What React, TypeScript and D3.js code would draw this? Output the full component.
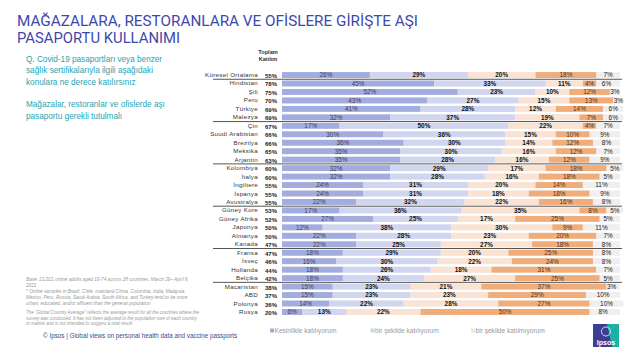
import React from "react";
import * as d3 from "d3";

const countries = [
  "Küresel Ortalama", "Hindistan", "Şili", "Peru", "Türkiye", "Malezya",
  "Çin", "Suudi Arabistan", "Brezilya", "Meksika", "Arjantin",
  "Kolombiya", "İtalya", "İngiltere", "İspanya", "Avustralya",
  "Güney Kore", "Güney Afrika", "Japonya", "Almanya", "Kanada",
  "Fransa", "İsveç", "Hollanda", "Belçika",
  "Macaristan", "ABD", "Polonya", "Rusya",
];
const totals = [
  "55%", "78%", "75%", "70%", "69%", "69%",
  "67%", "66%", "66%", "65%", "63%",
  "60%", "60%", "55%", "55%", "55%",
  "53%", "52%", "50%", "50%", "47%",
  "47%", "46%", "44%", "42%",
  "38%", "37%", "36%", "20%",
];
const kesinlikleKatiliyorum = [26, 45, 52, 43, 41, 32, 17, 30, 36, 35, 35, 32, 32, 24, 24, 22, 17, 27, 12, 22, 22, 18, 16, 18, 18, 15, 15, 14, 6];
const birSekildeKatiliyorum = [29, 33, 23, 27, 28, 37, 50, 36, 30, 30, 28, 29, 28, 31, 31, 32, 36, 25, 38, 28, 25, 29, 30, 26, 24, 23, 23, 22, 13];
const birSekildeKatilmiyorum = [20, 11, 10, 15, 12, 19, 22, 15, 14, 16, 16, 17, 16, 20, 18, 22, 35, 17, 30, 23, 27, 20, 22, 18, 27, 21, 23, 28, 22];
const kesinlikleKatilmiyorum = [18, 4, 12, 13, 14, 7, 4, 10, 12, 12, 12, 18, 18, 14, 18, 16, 8, 25, 9, 20, 18, 25, 24, 31, 25, 37, 29, 27, 50];
const bilmiyorum = [7, 6, 3, 3, 6, 6, 7, 9, 8, 7, 9, 5, 5, 11, 9, 8, 5, 5, 11, 7, 8, 8, 8, 7, 5, 3, 10, 10, 8];

const seriesList = [kesinlikleKatiliyorum, birSekildeKatiliyorum, birSekildeKatilmiyorum, kesinlikleKatilmiyorum, bilmiyorum];
const seriesColors = ["#a3acdf", "#d0d5f0", "#fae3d2", "#f0ad7a", "#efefef"];
const labelColors = ["#3f3f55", "#111", "#111", "#4a3424", "#222"];
const labelWeights = [400, 700, 700, 400, 400];
const legendLabels = ["Kesinlikle katılıyorum", "bir şekilde katılıyorum", "bir şekilde katılmıyorum"];
const groupEnds = [0, 5, 10, 15, 20, 24];

const questionLines = [
  "Q. Covid-19 pasaportları  veya benzer",
  "sağlık sertifikalarıyla ilgili aşağıdaki",
  "konulara ne derece katılırsınız",
  "",
  "Mağazalar,  restoranlar ve ofislerde aşı",
  "pasaportu gerekli tutulmalı",
];
const footLines = [
  "Base: 21,021 online adults aged 16-74 across 28 countries, March 26– April 9,",
  "2021",
  "* Online samples in Brazil, Chile, mainland China, Colombia, India, Malaysia,",
  "Mexico, Peru, Russia, Saudi Arabia, South Africa, and Turkey tend to be more",
  "urban, educated, and/or affluent than the general population",
];
const noteLines = [
  "The \u201cGlobal Country Average\u201d reflects the average result for all the countries where the",
  "survey was conducted. It has not been adjusted to the population size of each country",
  "or market and is not intended to suggest a total result.",
];

const FONT = "'Liberation Sans', Arial, sans-serif";

export default function App() {
  const x = d3.scaleLinear().domain([0, 100]).range([282, 620]);
  const y = d3.scaleBand<string>().domain(countries).range([70.8, 316.2]).paddingInner(0.3).paddingOuter(0.15);
  const bh = y.bandwidth();
  const step = y.step();

  const rows = countries.map((c, i) => {
    let acc = 0;
    const segs = seriesList.map((s, k) => {
      const v = s[i];
      const seg = { k, x0: acc, x1: acc + v, v };
      acc += v;
      return seg;
    });
    return { c, i, segs };
  });

  return (
    <svg width={640} height={360} style={{ position: "absolute", left: 0, top: 0, background: "#fff" }} fontFamily={FONT}>
      <rect width={640} height={360} fill="#fff" />
      <text x={17} y={26} fontFamily="Roboto, sans-serif" fontSize={15.5} fill="#3d48ad" textLength={401} lengthAdjust="spacingAndGlyphs">
        MAĞAZALARA, RESTORANLARA VE OFİSLERE GİRİŞTE  AŞI
      </text>
      <text x={17} y={43} fontFamily="Roboto, sans-serif" fontSize={15.5} fill="#3d48ad" textLength={163} lengthAdjust="spacingAndGlyphs">
        PASAPORTU KULLANIMI
      </text>

      {questionLines.map((l, i) => (
        <text key={i} x={26} y={62 + i * 11.3} fontSize={8.2} fill="#1ea4b4">{l}</text>
      ))}

      {footLines.map((l, i) => (
        <text key={i} x={26} y={281 + i * 6} fontSize={4.7} fontStyle="italic" fill="#999">{l}</text>
      ))}
      {noteLines.map((l, i) => (
        <text key={i} x={26} y={314 + i * 5.6} fontSize={4.5} fontStyle="italic" fill="#999">{l}</text>
      ))}
      <text x={43} y={338} fontSize={6.3} fill="#3a4a86">© Ipsos | Global views on personal  health data and vaccine passports</text>

      <text x={268} y={54} fontSize={5.6} fontWeight={700} fill="#333" textAnchor="middle">Toplam</text>
      <text x={268} y={61} fontSize={5.6} fontWeight={700} fill="#333" textAnchor="middle">Katılım</text>

      {rows.map(r => {
        const cy = (y(r.c) ?? 0) + bh / 2;
        return (
          <g key={r.c}>
            <text x={258} y={cy + 2} fontSize={6.2} fill="#333" textAnchor="end" letterSpacing={0.3}>{r.c}</text>
            <text x={265} y={cy + 3} fontSize={6} fontWeight={700} fill="#222">{totals[r.i]}</text>
            <rect x={x(0)} y={y(r.c)} width={x(100) - x(0)} height={bh} fill={seriesColors[4]} />
            {r.segs.map(s => (
              <rect key={s.k} x={x(s.x0)} y={y(r.c)} width={x(s.x1) - x(s.x0)} height={bh} fill={seriesColors[s.k]} />
            ))}
            {r.segs.map(s => (
              <text key={"t" + s.k} x={(x(s.x0) + x(s.x1)) / 2} y={cy + 2.4} fontSize={6.4} fontWeight={labelWeights[s.k]} fill={labelColors[s.k]} textAnchor="middle">
                {s.v}%
              </text>
            ))}
          </g>
        );
      })}

      {groupEnds.map(g => {
        const yy = (y(countries[g]) ?? 0) + bh / 2 + step / 2;
        return <line key={g} x1={213} x2={622} y1={yy} y2={yy} stroke="#555" strokeWidth={1} />;
      })}

      {legendLabels.map((l, i) => (
        <g key={l} transform={`translate(${270 + i * 100.5},331)`}>
          <rect x={0} y={-2.5} width={4} height={4} fill={seriesColors[i]} />
          <text x={4.5} y={2} fontSize={6.6} fill="#999">{l}</text>
        </g>
      ))}

      <g transform="translate(593,324)">
        <rect width={26} height={23} fill="#3b3e95" />
        <polygon points="14,0 26,0 26,23 19,23" fill="#1cb1a6" />
        <path d="M13,3 a4.5,4.5 0 1 1 -0.1,0 Z" fill="none" stroke="#fff" strokeWidth={0.8} />
        <text x={13} y={20.5} fontSize={7} fontWeight={700} fill="#fff" textAnchor="middle">Ipsos</text>
      </g>
    </svg>
  );
}
